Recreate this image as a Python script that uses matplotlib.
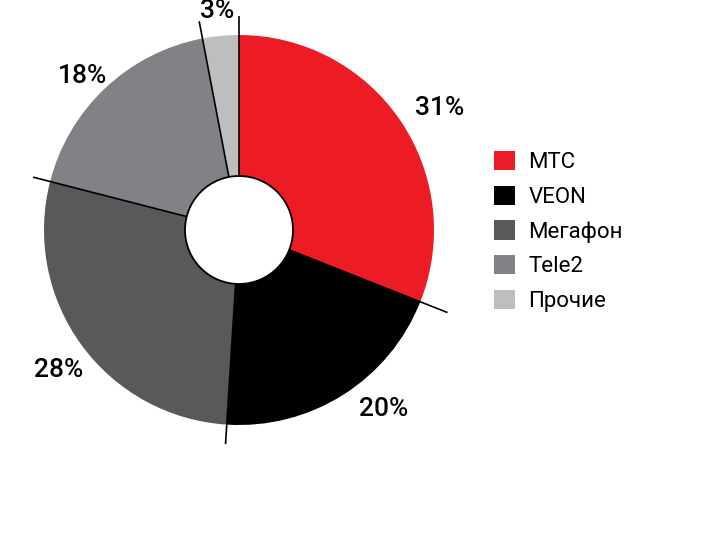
import matplotlib.pyplot as plt
import numpy as np
from matplotlib.patches import Circle, Patch

plt.rcParams["font.family"] = ["Roboto", "DejaVu Sans"]

# -- Datos --------------------------------------------------------------------
operators = ["МТС", "VEON", "Мегафон", "Tele2", "Прочие"]
shares = [31, 20, 28, 18, 3]
share_labels = ["31%", "20%", "28%", "18%", "3%"]
colors = ["#ED1C24", "#000000", "#58595B", "#808285", "#BCBEC0"]

# -- Figura -------------------------------------------------------------------
W, H = 720, 538
fig = plt.figure(figsize=(W / 100, H / 100), dpi=100)
ax = fig.add_axes([0, 0, 1, 1])

cx, cy = 239, H - 230
R = 195
r_hole = 54

ax.pie(shares, colors=colors, radius=R, center=(cx, cy), startangle=90,
       counterclock=False, frame=True, wedgeprops={"linewidth": 0})
ax.add_patch(Circle((cx, cy), r_hole, facecolor="white", edgecolor="black",
                    linewidth=1.3, zorder=5))

# lineas separadoras radiales
total = sum(shares)
bounds = 90 - 360 * np.cumsum([0] + shares[:-1]) / total
line_ext = [1.1, 1.15, 1.1, 1.09, 1.09]
for ang, ext in zip(bounds, line_ext):
    t = np.radians(ang)
    ax.plot([cx + r_hole * np.cos(t), cx + ext * R * np.cos(t)],
            [cy + r_hole * np.sin(t), cy + ext * R * np.sin(t)],
            color="black", linewidth=1.2, zorder=4, solid_capstyle="butt")

# etiquetas de porcentaje (ajuste fino en pixeles, como en el original)
nudges = [(12, -6), (22, 14), (4, -6), (0, -12), (0, -8)]
mids = 90 - 360 * (np.cumsum(shares) - np.array(shares) / 2) / total
for ang, lab, (dx, dy) in zip(mids, share_labels, nudges):
    t = np.radians(ang)
    ax.text(cx + 1.17 * R * np.cos(t) + dx, cy + 1.17 * R * np.sin(t) + dy,
            lab, ha="center", va="center", fontsize=19, fontweight="medium",
            color="black")

ax.set_xlim(0, W)
ax.set_ylim(0, H)
ax.axis("off")

handles = [Patch(facecolor=c, edgecolor="none") for c in colors]
fig.legend(handles, operators, loc="upper left",
           bbox_to_anchor=(494 / W, 1 - 151 / H), frameon=False,
           fontsize=16, handlelength=0.95, handleheight=0.95,
           handletextpad=0.6, labelspacing=0.56, borderpad=0,
           borderaxespad=0)

fig.savefig("out.png", dpi=100)
